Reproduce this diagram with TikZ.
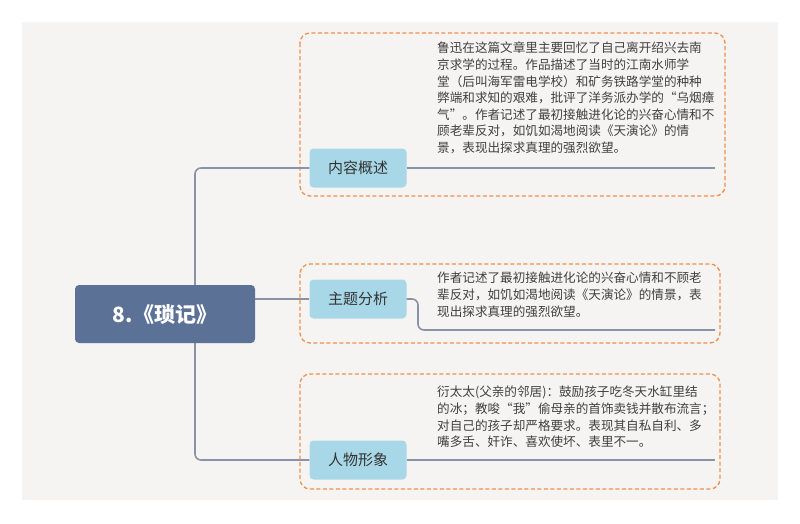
\documentclass[tikz,border=0pt]{standalone}
\usepackage{fontspec}
\setmainfont{Noto Sans CJK SC}
\begin{document}
\begin{tikzpicture}[x=1pt,y=-1pt,
  topic/.style={fill=topicblue,rounded corners=4pt,minimum width=97pt,minimum height=39pt,font=\fontsize{15}{18}\selectfont,text=black!80},
  dbox/.style={draw=dorange,line width=1.3pt,rounded corners=10pt,dash pattern=on 4pt off 2.5pt},
  txt/.style={anchor=north west,align=left,inner sep=0pt,font=\fontsize{12.6}{16.6}\selectfont,text=black!75},
  conn/.style={draw=linegray,line width=1.6pt,rounded corners=6pt}]
\definecolor{topicblue}{HTML}{A8D8E8}
\definecolor{dorange}{HTML}{F0904A}
\definecolor{linegray}{HTML}{8A92A6}
\definecolor{centralblue}{HTML}{5B7196}
\definecolor{bg}{HTML}{F6F4F3}
\useasboundingbox (0,0) rectangle (800,523);
\fill[white] (0,0) rectangle (800,523);
\fill[bg] (22,22) rectangle (778,500);
\draw[dbox] (300,33) rectangle (725,196);
\draw[dbox] (300,264) rectangle (720,343);
\draw[dbox] (300,374) rectangle (720,489);
\node[topic] (t1) at (358,168) {内容概述};
\node[topic] (t2) at (358,299) {主题分析};
\node[topic] (t3) at (358,460) {人物形象};
\coordinate (e1) at (715,168);
\coordinate (e2) at (715,330);
\coordinate (e3) at (715,460);
\coordinate (v) at (195,314);
\draw[conn] (t1.east) -- (e1);
\draw[conn] (t2.east) -| (418,330) -- (e2);
\draw[conn] (t3.east) -- (e3);
\draw[conn] (t1.west) -| (v) |- (t3.west);
\node[fill=centralblue,rounded corners=4pt,minimum width=180pt,minimum height=58pt,text=white,font=\fontsize{21}{24}\selectfont\bfseries] (c) at (165,314) {8.《琐记》};
\draw[conn] (c.east |- t2.west) -- (t2.west);
\node[txt] (x1) at (437,42) {鲁迅在这篇文章里主要回忆了自己离开绍兴去南\\京求学的过程。作品描述了当时的江南水师学\\堂（后叫海军雷电学校）和矿务铁路学堂的种种\\弊端和求知的艰难，批评了洋务派办学的“乌烟瘴\\气”。作者记述了最初接触进化论的兴奋心情和不\\顾老辈反对，如饥如渴地阅读《天演论》的情\\景，表现出探求真理的强烈欲望。};
\node[txt] (x2) at (437,272) {作者记述了最初接触进化论的兴奋心情和不顾老\\辈反对，如饥如渴地阅读《天演论》的情景，表\\现出探求真理的强烈欲望。};
\node[txt] (x3) at (437,386) {衍太太(父亲的邻居)：鼓励孩子吃冬天水缸里结\\的冰；教唆“我”偷母亲的首饰卖钱并散布流言；\\对自己的孩子却严格要求。表现其自私自利、多\\嘴多舌、奸诈、喜欢使坏、表里不一。};
\end{tikzpicture}
\end{document}
